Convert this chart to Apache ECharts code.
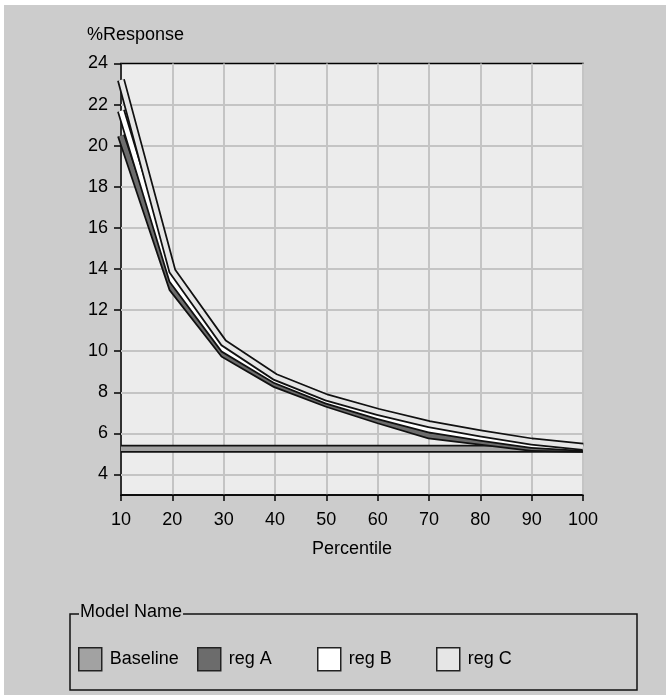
<!DOCTYPE html>
<html><head><meta charset="utf-8">
<script src="https://cdn.jsdelivr.net/npm/echarts@6/dist/echarts.min.js"></script>
<style>html,body{margin:0;padding:0;background:#fff}#main{width:666px;height:695px}</style>
</head><body><div id="main"></div>
<script>
// ---- data ----
const percentiles = [10, 20, 30, 40, 50, 60, 70, 80, 90, 100];
const baseline = [5.25, 5.25, 5.25, 5.25, 5.25, 5.25, 5.25, 5.25, 5.25, 5.25];
const regA = [20.5, 13.05, 9.85, 8.4, 7.45, 6.65, 5.9, 5.6, 5.3, 5.25];
const regB = [21.7, 13.45, 10.1, 8.6, 7.6, 6.85, 6.2, 5.8, 5.45, 5.3];
const regC = [23.2, 13.9, 10.4, 8.75, 7.75, 7.05, 6.45, 6.0, 5.6, 5.35];
const yTicks = [4, 6, 8, 10, 12, 14, 16, 18, 20, 22, 24];
const modelNames = ['Baseline', 'reg A', 'reg B', 'reg C'];
const modelValues = [baseline, regA, regB, regC];

const fills = ['#a2a2a2', '#6c6c6c', '#ffffff', '#e6e6e6'];
const FONT = 'Liberation Sans, Arial, sans-serif';
const legendLeft = [78, 197, 317, 436];

const chart = echarts.init(document.getElementById('main'));

const series = [{
  type: 'line', data: [], silent: true, z: 1,
  markLine: {
    silent: true, symbol: 'none', label: {show: false},
    lineStyle: {color: '#c4c4c4', width: 2, type: 'solid'},
    data: yTicks.filter(v => v < 24).map(v => ({yAxis: v}))
  }
}];
modelNames.forEach((name, i) => {
  const d = percentiles.map((p, j) => [p, modelValues[i][j]]);
  series.push({
    type: 'line', name: name + ' edge', data: d, symbol: 'none', silent: true,
    z: 3 + 2 * i, lineStyle: {color: '#111', width: 8, join: 'miter', cap: 'butt'}
  });
  series.push({
    type: 'line', name: name, data: d, symbol: 'none', silent: true,
    z: 4 + 2 * i, itemStyle: {color: fills[i]},
    lineStyle: {color: fills[i], width: 4.5, join: 'miter', cap: 'butt'}
  });
});

const legends = modelNames.map((name, i) => ({
  left: legendLeft[i], top: 647, orient: 'horizontal', padding: 0,
  itemWidth: 23, itemHeight: 23, itemGap: 6, selectedMode: false,
  textStyle: {fontFamily: FONT, fontSize: 18, color: '#000', padding: [0, 0, 0, 3]},
  data: [{name: name, icon: 'rect', itemStyle: {color: fills[i], borderColor: '#222', borderWidth: 1.5}}]
}));

chart.setOption({
  animation: false,
  backgroundColor: '#fff',
  title: {text: '%Response', left: 82, top: 21, padding: 5, textStyle: {fontFamily: FONT, fontSize: 18, fontWeight: 'normal', color: '#000'}},
  graphic: [
    {type: 'rect', shape: {x: 4, y: 5, width: 662, height: 690}, style: {fill: '#cccccc'}, z: -10, silent: true},
    {type: 'rect', shape: {x: 70, y: 614, width: 567, height: 76}, style: {fill: 'none', stroke: '#111', lineWidth: 1.5}, z: 5, silent: true},
    {type: 'text', x: 79, y: 603, style: {text: 'Model Name', font: '18px ' + FONT, fill: '#000', backgroundColor: '#cccccc', padding: [0, 1, 0, 1]}, z: 6, silent: true}
  ],
  legend: legends,
  grid: {left: 121, top: 63.5, right: 83, height: 431.5, show: true, backgroundColor: '#ececec', borderColor: '#000', borderWidth: 1.5},
  xAxis: {
    type: 'value', min: 10, max: 100, interval: 10,
    name: 'Percentile', nameLocation: 'middle', nameGap: 45,
    nameTextStyle: {fontFamily: FONT, fontSize: 18, color: '#000'},
    axisLine: {lineStyle: {color: '#000', width: 1.5}},
    axisTick: {show: true, length: 6, lineStyle: {color: '#000', width: 1.5}},
    axisLabel: {fontFamily: FONT, fontSize: 18, color: '#000', margin: 16},
    splitLine: {show: true, lineStyle: {color: '#c4c4c4', width: 2}}
  },
  yAxis: {
    type: 'value', min: 3, max: 24,
    axisLine: {show: true, lineStyle: {color: '#000', width: 1.5}},
    axisTick: {show: true, length: 7, customValues: yTicks, lineStyle: {color: '#000', width: 1.5}},
    axisLabel: {fontFamily: FONT, fontSize: 18, color: '#000', margin: 13, customValues: yTicks},
    splitLine: {show: false}
  },
  series: series
});
</script></body></html>
